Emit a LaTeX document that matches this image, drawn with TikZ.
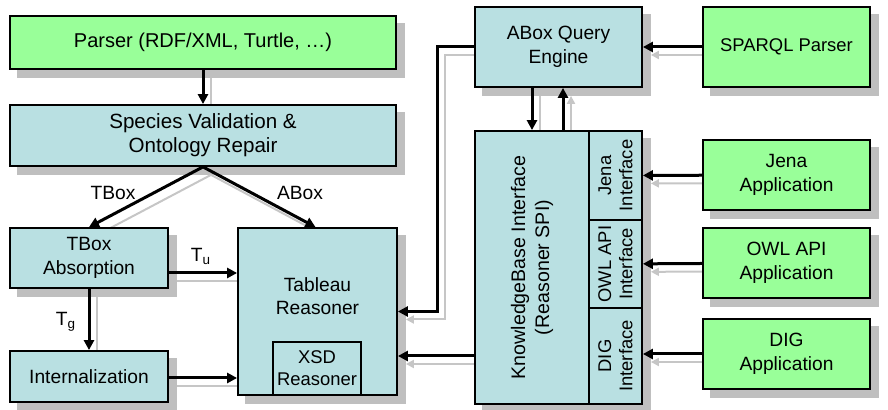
\documentclass[tikz,border=0pt]{standalone}
\usepackage{fontspec}
\setmainfont{Liberation Sans}
\usetikzlibrary{arrows.meta}
\definecolor{appgreen}{RGB}{153,255,153}
\definecolor{compblue}{RGB}{185,224,226}
\pgfdeclarelayer{shade}
\pgfdeclarelayer{wires}
\pgfsetlayers{shade,wires,main}

\begin{document}
\begin{tikzpicture}[x=0.5pt, y=-0.5pt,
  box/.style={draw, line width=0.9pt, align=center, inner sep=0pt, font=\fontsize{9.6}{11.8}\selectfont},
  comp/.style={box, fill=compblue},
  app/.style={box, fill=appgreen},
  vtext/.style={rotate=90, align=center, inner sep=0pt, font=\fontsize{9.2}{10.6}\selectfont},
  flow/.style={line width=1.5pt, -{Triangle[length=5pt,width=5pt]},
    preaction={draw=gray!45, line width=1pt, -{Triangle[length=4pt,width=4pt]},
      transform canvas={shift={(4pt,-4pt)}}}},
  tag/.style={font=\fontsize{9.6}{11.8}\selectfont, inner sep=0pt}]
  \useasboundingbox (0,0) rectangle (888,410);

  % left column
  \node[app, minimum width=193pt, minimum height=26.5pt, font=\fontsize{10}{12}\selectfont] (parser) at (203,42.5) {Parser (RDF/XML, Turtle, \dots)};
  \node[comp, minimum width=193pt, minimum height=30.5pt, font=\fontsize{10.3}{12}\selectfont] (species) at (203,135.5) {Species Validation \&\\Ontology Repair};
  \node[comp, minimum width=79pt, minimum height=30pt] (tabs) at (89,258) {TBox\\Absorption};
  \node[comp, minimum width=79pt, minimum height=25.5pt] (intern) at (89,376.5) {Internalization};
  \node[comp, minimum width=79.5pt, minimum height=83.5pt,
    label={[tag, align=center, yshift=7.75pt]center:Tableau\\Reasoner}] (tableau) at (317.5,311.5) {};
  \node[comp, minimum width=44pt, minimum height=26.5pt, font=\fontsize{9.2}{11}\selectfont] (xsd) at (317,368.5) {XSD\\Reasoner};

  % query engine and reasoner interface
  \node[comp, minimum width=83.5pt, minimum height=40pt] (aqe) at (558.5,47) {ABox Query\\Engine};
  \node[comp, minimum width=57pt, minimum height=136.5pt,
    label={[vtext, font=\fontsize{9.8}{12}\selectfont]center:{KnowledgeBase Interface\\(Reasoner SPI)}}] (kb) at (532,267.5) {};
  \node[comp, minimum width=26.5pt, minimum height=44.5pt,
    label={[vtext]center:{Jena\\Interface}}] (jenai) at (615.5,175.5) {};
  \node[comp, minimum width=26.5pt, minimum height=44pt,
    label={[vtext]center:{OWL API\\Interface}}] (owli) at (615.5,264) {};
  \node[comp, minimum width=26.5pt, minimum height=48pt,
    label={[vtext]center:{DIG\\Interface}}] (digi) at (615.5,356) {};

  % applications
  \node[app, minimum width=83.5pt, minimum height=40pt, font=\fontsize{9.2}{11}\selectfont] (sparql) at (786.5,47) {SPARQL Parser};
  \node[app, minimum width=83.5pt, minimum height=35pt] (jenaapp) at (786.5,175) {Jena\\Application};
  \node[app, minimum width=83.5pt, minimum height=35pt] (owlapp) at (786.5,263) {OWL API\\Application};
  \node[app, minimum width=83.5pt, minimum height=35pt] (digapp) at (786.5,354) {DIG\\Application};

  % box shadows
  \begin{pgfonlayer}{shade}
    \foreach \n in {parser,species,tabs,intern,tableau,aqe,kb,jenai,owli,digi,sparql,jenaapp,owlapp,digapp}
      \fill[gray!50] ([shift={(4pt,-4pt)}]\n.north west) rectangle ([shift={(4pt,-4pt)}]\n.south east);
  \end{pgfonlayer}

  % data flow
  \begin{pgfonlayer}{wires}
    \draw[flow] (parser) -- (species);
    \draw[flow] (species.south) -- (tabs.north);
    \draw[flow] (species.south) -- ([xshift=-1pt]tableau.north);
    \draw[flow] (tabs.east |- 0,273) -- (tableau.west |- 0,273);
    \draw[flow] (tabs) -- (intern);
    \draw[flow] (intern.east |- 0,378) -- (tableau.west |- 0,378);
    \coordinate (bend) at (437,47);
    \draw[flow] (aqe.west) -- (bend) |- (tableau.east);
    \draw[flow] (kb.west |- digi) -- (tableau.east |- digi);
    \draw[flow] (aqe.south -| kb.north) -- (kb.north);
    \draw[flow] (kb.north -| 563,0) -- (aqe.south -| 563,0);
    \draw[flow] (sparql) -- (aqe);
    \draw[flow] (jenaapp) -- (jenai);
    \draw[flow] (owlapp) -- (owli);
    \draw[flow] (digapp.west) -- (digi.east |- digapp.west);
  \end{pgfonlayer}

  % flow labels
  \node[tag] (tboxlbl) at (113,193) {TBox};
  \node[tag] (aboxlbl) at (300,193) {ABox};
  \node[tag] (tulbl) at (201,256) {T\textsubscript{u}};
  \node[tag] (tglbl) at (66,322) {T\textsubscript{g}};
\end{tikzpicture}
\end{document}
